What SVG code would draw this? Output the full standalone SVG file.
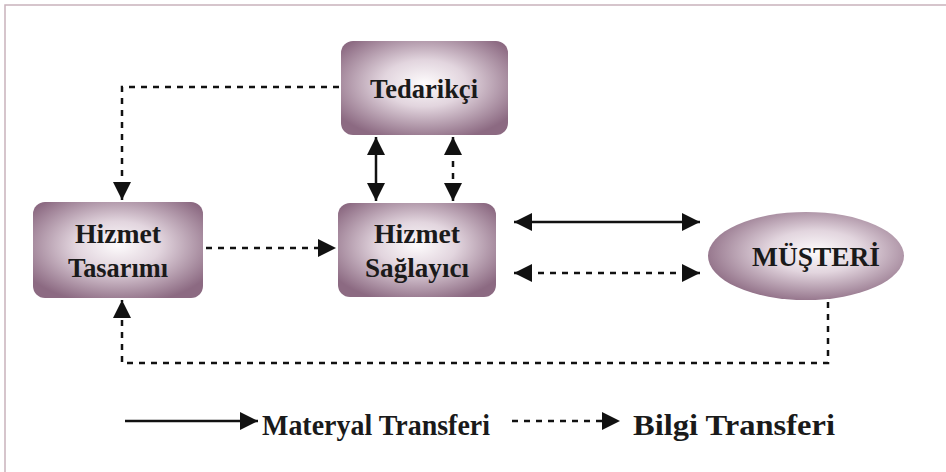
<svg xmlns="http://www.w3.org/2000/svg" width="946" height="472" viewBox="0 0 946 472">
<defs>
<radialGradient id="g" cx="50%" cy="45%" r="62%">
<stop offset="0" stop-color="#fdfbfc"/>
<stop offset="0.4" stop-color="#e2d5de"/>
<stop offset="1" stop-color="#8c6a82"/>
</radialGradient>
<radialGradient id="ge" cx="55%" cy="45%" r="60%">
<stop offset="0" stop-color="#fdfbfc"/>
<stop offset="0.4" stop-color="#e2d5de"/>
<stop offset="1" stop-color="#8c6a82"/>
</radialGradient>
<marker id="ah" viewBox="0 0 10 10" refX="10" refY="5" markerWidth="18" markerHeight="18" markerUnits="userSpaceOnUse" orient="auto-start-reverse">
<path d="M0,0 L10,5 L0,10 z" fill="#111"/>
</marker>
</defs>
<style>
.node{fill:url(#g);}
.t{font-family:"Liberation Serif","Times New Roman",serif;font-weight:bold;font-size:28px;fill:#1a1a1a;text-anchor:middle;}
.lg{font-size:30px;text-anchor:start;}
.solid{stroke:#111;stroke-width:2.5;fill:none;}
.dot{stroke:#111;stroke-width:2.5;fill:none;stroke-dasharray:6 6;}
</style>
<rect x="5" y="5" width="960" height="480" fill="none" stroke="#c9b3bc" stroke-width="1.5"/>
<g id="tedarikci">
<rect class="node" x="341" y="41" width="167" height="94" rx="12"/>
<text class="t" x="424" y="98" textLength="108" lengthAdjust="spacingAndGlyphs">Tedarikçi</text>
</g>
<g id="hizmet-tasarimi">
<rect class="node" x="33" y="202" width="170" height="96" rx="12"/>
<text class="t" x="118" y="243" textLength="86" lengthAdjust="spacingAndGlyphs">Hizmet</text>
<text class="t" x="118" y="277" textLength="100" lengthAdjust="spacingAndGlyphs">Tasarımı</text>
</g>
<g id="hizmet-saglayici">
<rect class="node" x="338" y="203" width="158" height="94" rx="12"/>
<text class="t" x="417" y="243" textLength="86" lengthAdjust="spacingAndGlyphs">Hizmet</text>
<text class="t" x="417" y="277" textLength="104" lengthAdjust="spacingAndGlyphs">Sağlayıcı</text>
</g>
<g id="musteri">
<ellipse cx="806" cy="256" rx="98" ry="44" fill="url(#ge)"/>
<text class="t" x="816" y="266" textLength="128" lengthAdjust="spacingAndGlyphs">MÜŞTERİ</text>
</g>
<g id="connectors">
<line class="solid" x1="376" y1="137" x2="376" y2="201" marker-start="url(#ah)" marker-end="url(#ah)"/>
<line class="dot" x1="453" y1="137" x2="453" y2="201" marker-start="url(#ah)" marker-end="url(#ah)"/>
<polyline class="dot" points="339,87 122,87 122,200" marker-end="url(#ah)"/>
<line class="dot" x1="206" y1="248" x2="336" y2="248" marker-end="url(#ah)"/>
<line class="solid" x1="514" y1="222" x2="700" y2="222" marker-start="url(#ah)" marker-end="url(#ah)"/>
<line class="dot" x1="514" y1="273" x2="700" y2="273" marker-start="url(#ah)" marker-end="url(#ah)"/>
<polyline class="dot" points="828,302 828,363 122,363 122,300" marker-end="url(#ah)"/>
</g>
<g id="legend">
<line class="solid" x1="125" y1="421" x2="258" y2="421" marker-end="url(#ah)"/>
<text class="t lg" x="262" y="435" textLength="228" lengthAdjust="spacingAndGlyphs">Materyal Transferi</text>
<line class="dot" x1="512" y1="421" x2="620" y2="421" stroke-dasharray="4 6" marker-end="url(#ah)"/>
<text class="t lg" x="633" y="435" textLength="202" lengthAdjust="spacingAndGlyphs">Bilgi Transferi</text>
</g>
</svg>
